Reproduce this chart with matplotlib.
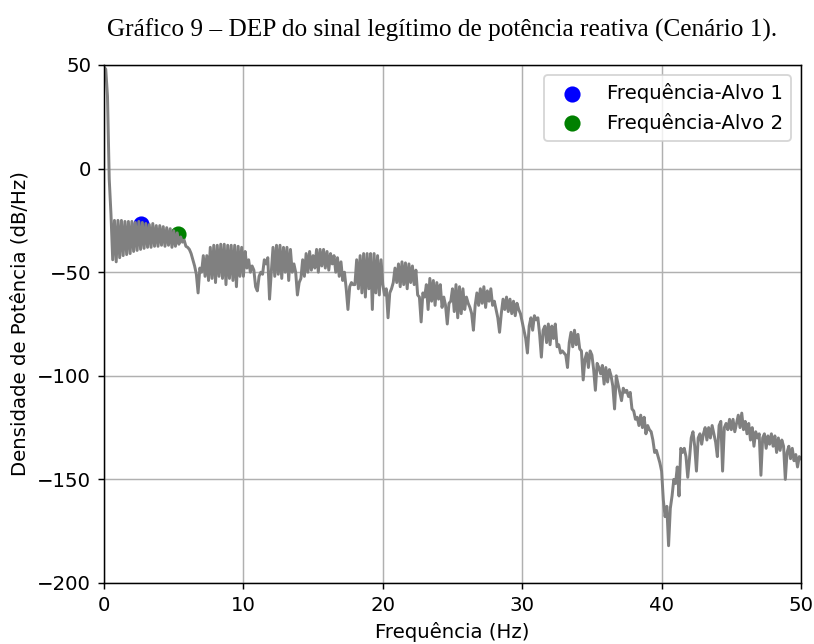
import numpy as np
import matplotlib
matplotlib.use('Agg')
import matplotlib.pyplot as plt

# Espectro: passo de 0.125 Hz, de 0 a 50 Hz (dB/Hz)
df = 0.125
psd_db = [
    49, 48, 35, -5, -22, -44, -25, -45,                         # 0 Hz
    -25, -43, -25, -42, -25.5, -41.5, -25.5, -41,               # 1
    -25.5, -40, -26, -39.5, -25.5, -39, -26, -38.5,             # 2
    -26.5, -38, -27, -38, -26.5, -37.5, -27.5, -37.5,           # 3
    -27.5, -37, -28, -37.5, -28.5, -37, -29, -38,               # 4
    -30, -37.5, -31, -36.5, -33, -35.5, -34.5, -37.5,           # 5
    -38, -39, -41, -44, -47, -51, -60, -48,                     # 6
    -50, -42, -52, -42, -54, -38, -53, -37,                     # 7
    -55, -37, -52, -36.5, -53, -36.5, -56, -37,                 # 8
    -53, -37, -54, -37, -57, -37.5, -52, -38,                   # 9
    -52, -40, -48, -44, -50, -47, -49, -57,                     # 10
    -59, -52, -50, -51, -44, -46, -43, -63,                     # 11
    -50, -38, -52, -37, -51, -37, -53, -38,                     # 12
    -50, -38, -54, -39, -50, -46, -50, -61,                     # 13
    -55, -53, -44, -52, -41, -50, -40, -49,                     # 14
    -42, -48, -39, -50, -39, -47, -39, -48,                     # 15
    -40, -49, -41, -46, -42, -50, -43, -52,                     # 16
    -45, -54, -50, -58, -68, -57, -55, -56,                     # 17
    -56, -44, -58, -42, -60, -41, -62, -41,                     # 18
    -58, -41, -68, -41, -60, -42, -61, -44,                     # 19
    -56, -61, -58, -72, -60, -58, -55, -48,                     # 20
    -55, -46, -57, -45, -56, -45.5, -58, -46,                   # 21
    -55, -47, -56, -49, -61, -62, -74, -60,                     # 22
    -62, -56, -68, -53, -64, -54, -66, -55,                     # 23
    -63, -56, -67, -62, -66, -75, -65, -64,                     # 24
    -58, -69, -56, -72, -57, -70, -58, -68,                     # 25
    -62, -65, -67, -70, -78, -66, -60, -66,                     # 26
    -58, -65, -57, -67, -59, -64, -58, -66,                     # 27
    -64, -68, -72, -79, -70, -63, -68, -62,                     # 28
    -69, -63, -70, -64, -71, -65, -68, -70,                     # 29
    -74, -78, -82, -89, -76, -72, -78, -71,                     # 30
    -73, -72, -80, -91, -78, -76, -84, -75,                     # 31
    -85, -76, -82, -75, -86, -85, -89, -88,                     # 32
    -89, -90, -96, -84, -79, -86, -78, -85,                     # 33
    -80, -87, -88, -102, -92, -89, -96, -88,                    # 34
    -90, -97, -107, -94, -96, -99, -95, -104,                   # 35
    -96, -103, -97, -100, -105, -116, -100, -104,               # 36
    -108, -112, -106, -108, -107, -110, -108, -116,             # 37
    -117, -121, -120, -124, -119, -125, -120, -128,             # 38
    -124, -126, -127, -131, -137, -136, -139, -142,             # 39
    -146, -160, -168, -163, -182, -164, -158, -150,             # 40
    -152, -144, -158, -135, -137, -135, -139, -149,             # 41
    -140, -130, -127, -134, -146, -130, -128, -133,             # 42
    -128, -125, -131, -125, -130, -124, -128, -132,             # 43
    -139, -124, -122, -146, -125, -123, -126, -121,             # 44
    -126, -121, -127, -123, -119, -125, -118, -126,             # 45
    -122, -128, -123, -131, -125, -134, -127, -130,             # 46
    -128, -148, -130, -128, -135, -129, -133, -128,             # 47
    -134, -129, -137, -130, -136, -131, -134, -150,             # 48
    -137, -134, -140, -135, -141, -138, -144, -139,             # 49
    -140,                                                       # 50
]
freqs = np.arange(len(psd_db)) * df

# Frequências-alvo marcadas
alvo_f = [2.65, 5.3]
alvo_db = [-26.7, -31.6]
alvo_nomes = ['Frequência-Alvo 1', 'Frequência-Alvo 2']
alvo_cores = ['blue', 'green']

titulo = 'Gráfico 9 – DEP do sinal legítimo de potência reativa (Cenário 1).'

dpi = 133
plt.rcParams['font.size'] = 10.7
fig = plt.figure(figsize=(814 / dpi, 644 / dpi), dpi=dpi)
ax = fig.add_axes([104 / 814, 1 - 583 / 644, 697 / 814, 518 / 644])

ax.plot(freqs, psd_db, color='gray', linewidth=1.6)
for f, d, nome, cor in zip(alvo_f, alvo_db, alvo_nomes, alvo_cores):
    ax.scatter(f, d, color=cor, s=60, label=nome)

ax.set_xlim(0, 50)
ax.set_ylim(-200, 50)
ax.set_xticks([0, 10, 20, 30, 40, 50])
ax.set_yticks([-200, -150, -100, -50, 0, 50])
ax.set_xlabel('Frequência (Hz)')
ax.set_ylabel('Densidade de Potência (dB/Hz)')
ax.grid(True)
ax.legend(loc='upper right')

fig.text(0.543, 0.953, titulo, ha='center', va='center',
         family='Liberation Serif', fontsize=13.7)

fig.savefig('out.png', dpi=dpi)
plt.close(fig)
